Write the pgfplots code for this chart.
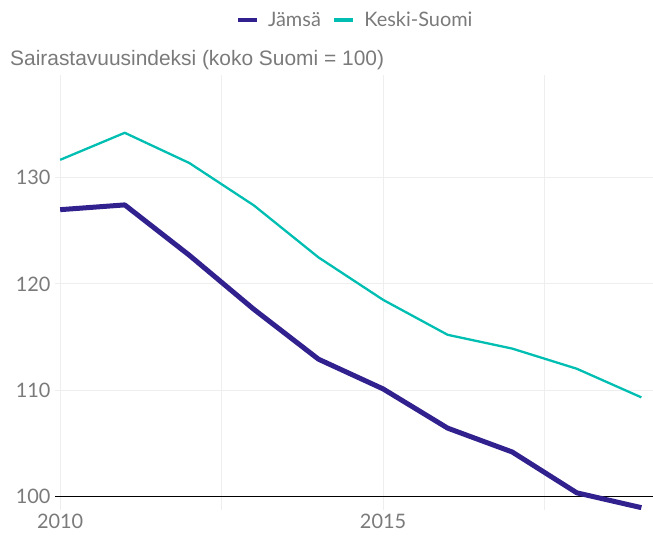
\documentclass[border=0pt]{standalone}
\usepackage{fontspec}
\setmainfont{Lato}
\newfontfamily\titlefont{Liberation Sans}
\usepackage{pgfplots}
\pgfplotsset{compat=1.18}
\definecolor{jamsa}{HTML}{31218F}
\definecolor{keski}{HTML}{00BFB2}
\definecolor{txtgray}{HTML}{7A7A7A}
\definecolor{gridgray}{HTML}{EEEEEE}
\begin{document}
\begin{tikzpicture}
\useasboundingbox (0,0) rectangle (653bp,537bp);
\begin{axis}[
  at={(55bp,27bp)}, anchor=south west,
  scale only axis, width=598bp, height=435bp,
  xmin=2009.92, xmax=2019.18, ymin=98.68, ymax=139.7,
  axis line style={draw=none},
  major tick length=0pt, minor tick length=0pt,
  xtick={2010,2015}, minor xtick={2012.5,2017.5},
  ytick={110,120,130},
  extra y ticks={100},
  extra y tick style={grid style={black, line width=0.9pt}},
  xmajorgrids, xminorgrids, ymajorgrids,
  grid style={gridgray, line width=0.9pt},
  minor grid style={gridgray, line width=0.9pt},
  /pgf/number format/assume math mode=true,
  /pgf/number format/1000 sep={},
  tick label style={font=\fontsize{20}{22}\selectfont, text=txtgray},
  yticklabel style={xshift=-1bp},
  xticklabel style={yshift=-1bp},
  legend columns=2,
  legend style={at={(0.5017,1.126)}, anchor=center, draw=none, fill=none,
    font=\fontsize{20}{22}\selectfont\color{txtgray},
    /tikz/every even column/.append style={column sep=9bp}},
  legend image code/.code={\draw[#1, line width=4.5bp] (0bp,0bp) -- (19bp,0bp);},
]
\addplot[jamsa, line width=5bp, line join=round] coordinates {
(2010,127.0) (2011,127.45) (2012,122.7) (2013,117.6) (2014,112.9)
(2015,110.1) (2016,106.4) (2017,104.15) (2018,100.3) (2019,98.9)};
\addlegendentry{\hspace{7bp}Jämsä}
\addplot[keski, line width=2.3bp, line join=round] coordinates {
(2010,131.7) (2011,134.25) (2012,131.4) (2013,127.4) (2014,122.5)
(2015,118.5) (2016,115.2) (2017,113.9) (2018,112.0) (2019,109.3)};
\addlegendentry{\hspace{7bp}Keski-Suomi}
\end{axis}
\node[anchor=west, inner sep=0pt, text=txtgray, font=\titlefont\fontsize{21}{23}\selectfont] at (10bp,477bp) {Sairastavuusindeksi (koko Suomi = 100)};
\end{tikzpicture}
\end{document}
